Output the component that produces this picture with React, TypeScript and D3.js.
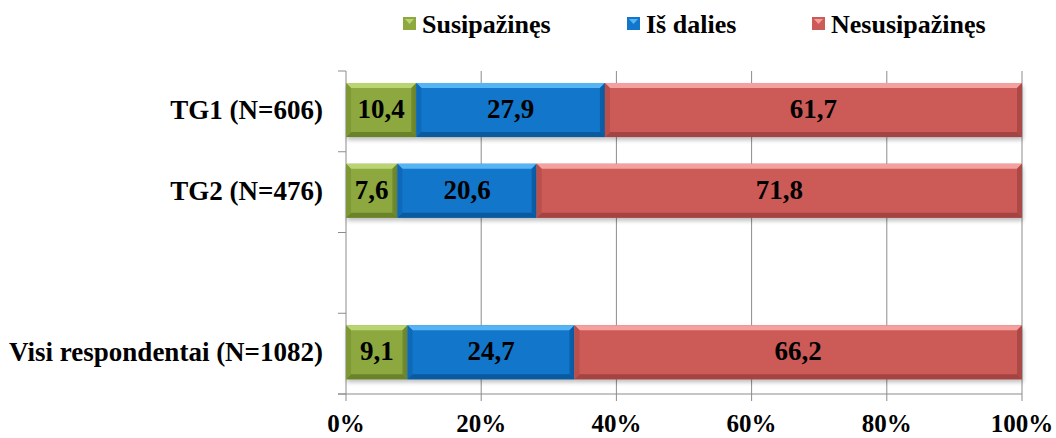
import React from "react";
import * as d3 from "d3";

const categories = ["TG1 (N=606)", "TG2 (N=476)", "", "Visi respondentai (N=1082)"];
const seriesNames = ["Susipažinęs", "Iš dalies", "Nesusipažinęs"];
const susipazines = [10.4, 7.6, null, 9.1];
const isDalies = [27.9, 20.6, null, 24.7];
const nesusipazines = [61.7, 71.8, null, 66.2];
const xTicks = [0, 20, 40, 60, 80, 100];

const colors = [
  { main: "#8CA83E", light: "#BAD473", dark: "#6A822A", side: "#7E9836" },
  { main: "#1276CB", light: "#57B4F3", dark: "#0A5AA0", side: "#0E69B8" },
  { main: "#CC5A57", light: "#F3A09E", dark: "#A44442", side: "#BA4F4C" },
];

const W = 1056, H = 438;
const left = 346, right = 1022, top = 71, bottom = 394;
const FONT = "'Liberation Serif', 'Times New Roman', Times, serif";

function Bar({ x, y, w, h, c }: { x: number; y: number; w: number; h: number; c: typeof colors[0] }) {
  const b = 5;
  return (
    <g>
      <rect x={x + 1} y={y + 3} width={w} height={h} fill="#000" opacity={0.25} filter="url(#shadow)" />
      <rect x={x} y={y} width={w} height={h} fill={c.main} />
      <polygon points={`${x},${y} ${x + w},${y} ${x + w - b},${y + b} ${x + b},${y + b}`} fill={c.light} />
      <polygon points={`${x},${y + h} ${x + w},${y + h} ${x + w - b},${y + h - b} ${x + b},${y + h - b}`} fill={c.dark} />
      <polygon points={`${x},${y} ${x + b},${y + b} ${x + b},${y + h - b} ${x},${y + h}`} fill={c.side} />
      <polygon points={`${x + w},${y} ${x + w - b},${y + b} ${x + w - b},${y + h - b} ${x + w},${y + h}`} fill={c.dark} opacity={0.8} />
    </g>
  );
}

export default function App() {
  const xs = d3.scaleLinear().domain([0, 100]).range([left, right]);
  const ys = d3.scaleBand<number>().domain(d3.range(categories.length)).range([top, bottom]).paddingInner(0.33).paddingOuter(0.165).align(0.45);
  const series = [susipazines, isDalies, nesusipazines];
  const fmt = (v: number) => v.toFixed(1).replace(".", ",");
  const band = (bottom - top) / categories.length;

  const legendX = [403, 627, 812];

  return (
    <svg width={W} height={H} style={{ position: "absolute", left: 0, top: 0 }} fontFamily={FONT}>
      <defs>
        <filter id="shadow" x="-5%" y="-30%" width="110%" height="160%">
          <feGaussianBlur stdDeviation="2" />
        </filter>
      </defs>
      <rect width={W} height={H} fill="#fff" />
      {xTicks.slice(1).map((t) => (
        <line key={t} x1={xs(t)} x2={xs(t)} y1={top} y2={bottom + 7} stroke="#8c8c8c" strokeWidth={1} />
      ))}
      <line x1={left} x2={left} y1={top} y2={bottom + 7} stroke="#8c8c8c" />
      {d3.range(categories.length + 1).map((i) => (
        <line key={i} x1={left - 8} x2={left} y1={top + i * band} y2={top + i * band} stroke="#8c8c8c" />
      ))}
      <line x1={left - 8} x2={right} y1={bottom} y2={bottom} stroke="#8c8c8c" />
      {categories.map((cat, i) => {
        if (susipazines[i] == null) return null;
        let acc = 0;
        const y = ys(i)!;
        const h = ys.bandwidth();
        return (
          <g key={i}>
            {series.map((s, k) => {
              const v = s[i] as number;
              const x0 = xs(acc);
              acc += v;
              const x1 = xs(acc);
              return <Bar key={k} x={x0} y={y} w={x1 - x0} h={h} c={colors[k]} />;
            })}
          </g>
        );
      })}
      {categories.map((cat, i) => {
        if (susipazines[i] == null) return null;
        let acc = 0;
        const y = ys(i)! + ys.bandwidth() / 2;
        return (
          <g key={"l" + i}>
            {series.map((s, k) => {
              const v = s[i] as number;
              const cx = xs(acc + v / 2);
              acc += v;
              return (
                <text key={k} x={cx} y={y} dy="0.3em" textAnchor="middle" fontWeight="bold" fontSize={27} fill="#000" fontFamily={FONT}>
                  {fmt(v)}
                </text>
              );
            })}
          </g>
        );
      })}
      {categories.map((cat, i) =>
        cat ? (
          <text key={"c" + i} x={323} y={ys(i)! + ys.bandwidth() / 2} dy="0.33em" textAnchor="end" fontWeight="bold" fontSize={27} fontFamily={FONT}>
            {cat}
          </text>
        ) : null
      )}
      {xTicks.map((t) => (
        <text key={"x" + t} x={xs(t)} y={432} textAnchor="middle" fontWeight="bold" fontSize={25} fontFamily={FONT}>
          {t + "%"}
        </text>
      ))}
      {seriesNames.map((n, k) => (
        <g key={"lg" + k}>
          <rect x={legendX[k]} y={17} width={13} height={13} fill={colors[k].main} />
          <polygon points={`${legendX[k] + 2},${19} ${legendX[k] + 11},${19} ${legendX[k] + 6.5},${24}`} fill={colors[k].light} />
          <text x={legendX[k] + 19} y={33} fontWeight="bold" fontSize={26} fontFamily={FONT}>
            {n}
          </text>
        </g>
      ))}
    </svg>
  );
}
